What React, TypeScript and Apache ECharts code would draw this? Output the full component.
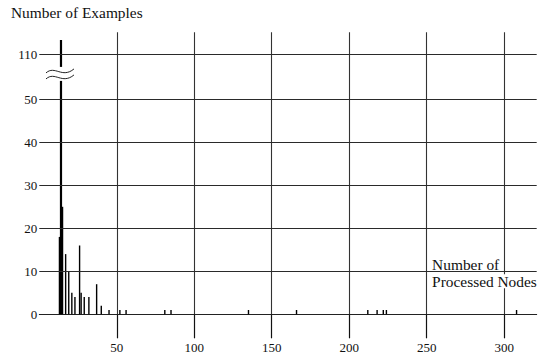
import React, { useEffect, useRef } from "react";
import * as echarts from "echarts";

const FONT = '"Liberation Serif", "Times New Roman", Times, serif';

// number of processed nodes (x) and number of examples (y)
const nodeCounts = [13, 14, 15, 17, 19, 21, 23, 26, 27, 29, 32, 37, 40, 45, 52, 56, 81, 85, 135, 166, 212, 218, 222, 224, 308];
const exampleCounts = [18, 118, 25, 14, 10, 5, 4, 16, 5, 4, 4, 7, 2, 1, 1, 1, 1, 1, 1, 1, 1, 1, 1, 1, 1];

const xTicks = [50, 100, 150, 200, 250, 300];
const yTicks = [0, 10, 20, 30, 40, 50, 110];

const yTitle = "Number of Examples";
const xTitle1 = "Number of";
const xTitle2 = "Processed Nodes";

// broken axis: values above 50 are drawn on a compressed segment, 110 sits at 60.4
const toDisplay = (v: number) => (v <= 50 ? v : 60.4 + (v - 110) * 0.425);

export default function App() {
  const ref = useRef<HTMLDivElement>(null);
  useEffect(() => {
    const chart = echarts.init(ref.current!, null, { renderer: "svg" });
    const yDisp = yTicks.map(toDisplay);
    const data = nodeCounts.map((n, i) => [n, toDisplay(exampleCounts[i]), exampleCounts[i]]);
    const lineStyle = { color: "#2a2a2a", width: 1, type: "solid" };
    chart.setOption({
      animation: false,
      backgroundColor: "#fff",
      grid: { left: 39.3, right: 15.3, top: 32.2, bottom: 42.7 },
      xAxis: {
        type: "value",
        min: 0,
        max: 321,
        interval: 50,
        axisLine: { show: true, lineStyle: { color: "#222", width: 1 } },
        axisTick: { show: true, customValues: xTicks, length: 24, lineStyle: { color: "#111", width: 1.2 } },
        axisLabel: { customValues: xTicks, margin: 27, fontFamily: FONT, fontSize: 13, color: "#111" },
        splitLine: { show: false },
      },
      yAxis: {
        type: "value",
        min: 0,
        max: 65.6,
        axisLine: { show: false },
        axisTick: { show: false },
        axisLabel: {
          customValues: yDisp,
          margin: 2,
          fontFamily: FONT,
          fontSize: 13,
          color: "#111",
          formatter: (v: number) => {
            const i = yDisp.findIndex((d) => Math.abs(d - v) < 0.01);
            return i >= 0 ? String(yTicks[i]) : "";
          },
        },
        splitLine: { show: false },
      },
      series: [
        {
          type: "line",
          data: [],
          silent: true,
          markLine: {
            silent: true,
            animation: false,
            symbol: ["none", "none"],
            label: { show: false },
            lineStyle,
            data: [
              ...xTicks.map((x) => ({ xAxis: x, lineStyle: { color: "#333", width: 1.1, type: "solid" } })),
              ...yDisp.filter((d) => d > 0).map((d) => ({ yAxis: d })),
            ],
          },
        },
        {
          type: "custom",
          z: 4,
          data,
          encode: { x: 0, y: 1 },
          renderItem: (params: any, api: any) => {
            const x = api.value(0);
            const y = api.value(1);
            const top = api.coord([x, y]);
            const base = api.coord([x, 0]);
            const w = api.value(2) > 50 ? 2.2 : 1.4;
            return {
              type: "rect",
              shape: { x: top[0] - w / 2, y: top[1], width: w, height: base[1] - top[1] },
              style: { fill: "#000" },
            };
          },
        },
      ],
    });

    const tallIdx = exampleCounts.findIndex((v) => v > 50);
    const bp = chart.convertToPixel({ gridIndex: 0 }, [nodeCounts[tallIdx], 55.9]) as number[];
    const bx = bp[0];
    const by = bp[1];
    const xLabelPos = chart.convertToPixel({ gridIndex: 0 }, [253.5, toDisplay(10)]) as number[];
    chart.setOption({
      graphic: [
        {
          type: "rect",
          z: 10,
          shape: { x: bx - 4, y: by - 7, width: 8, height: 14 },
          style: { fill: "#fff" },
        },
        {
          type: "bezierCurve",
          z: 11,
          shape: { x1: bx - 15, y1: by - 1, cpx1: bx - 6, cpy1: by - 9, cpx2: bx + 1, cpy2: by + 5, x2: bx + 13, y2: by - 5 },
          style: { stroke: "#222", lineWidth: 1, fill: "none" },
        },
        {
          type: "bezierCurve",
          z: 11,
          shape: { x1: bx - 15, y1: by + 5, cpx1: bx - 6, cpy1: by - 3, cpx2: bx + 1, cpy2: by + 11, x2: bx + 13, y2: by + 1 },
          style: { stroke: "#222", lineWidth: 1, fill: "none" },
        },
        {
          type: "text",
          z: 10,
          left: 11,
          top: 5,
          style: { text: yTitle, font: `15.4px ${FONT}`, fill: "#111" },
        },
        {
          type: "text",
          z: 10,
          x: xLabelPos[0],
          y: xLabelPos[1] - 7,
          style: {
            text: xTitle1,
            font: `15.4px ${FONT}`,
            fill: "#111",
            verticalAlign: "middle",
            lineHeight: 12,
            backgroundColor: "#fff",
          },
        },
        {
          type: "text",
          z: 10,
          x: xLabelPos[0],
          y: xLabelPos[1] + 10,
          style: {
            text: xTitle2,
            font: `15.4px ${FONT}`,
            fill: "#111",
            verticalAlign: "middle",
            lineHeight: 14,
            backgroundColor: "#fff",
          },
        },
      ],
    });
    return () => chart.dispose();
  }, []);
  return <div ref={ref} style={{ position: "fixed", left: 0, top: 0, width: 552, height: 357 }} />;
}
